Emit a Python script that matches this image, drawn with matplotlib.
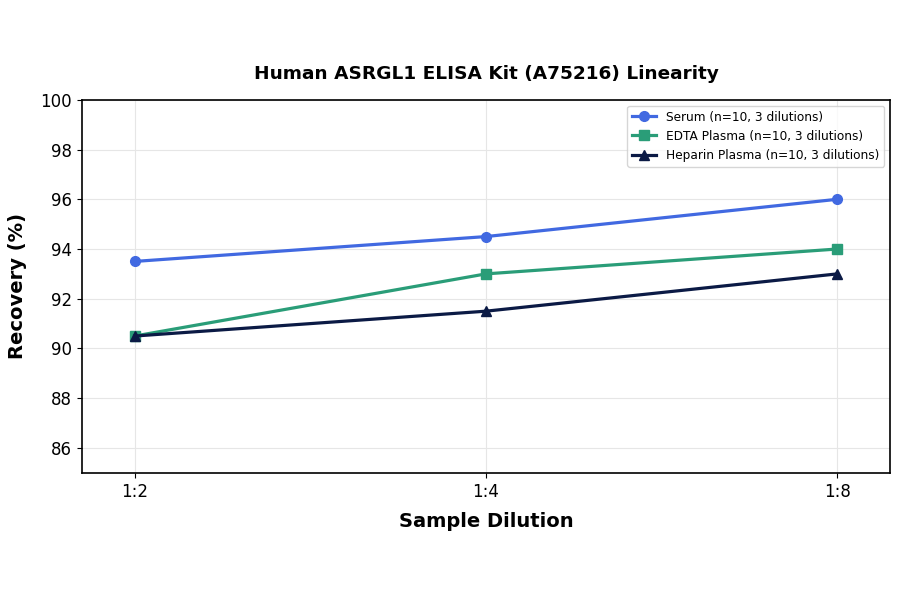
import matplotlib
matplotlib.use("Agg")
import matplotlib.pyplot as plt

dilutions = ["1:2", "1:4", "1:8"]
serum = [93.5, 94.5, 96.0]
edta = [90.5, 93.0, 94.0]
heparin = [90.5, 91.5, 93.0]

fig, ax = plt.subplots(figsize=(9, 5.94), dpi=100)
x = range(len(dilutions))
ax.plot(x, serum, marker="o", color="#4169E1", lw=2.3, ms=7, label="Serum (n=10, 3 dilutions)")
ax.plot(x, edta, marker="s", color="#2A9D78", lw=2.3, ms=7, label="EDTA Plasma (n=10, 3 dilutions)")
ax.plot(x, heparin, marker="^", color="#0B1A45", lw=2.3, ms=7, label="Heparin Plasma (n=10, 3 dilutions)")

ax.set_xticks(list(x))
ax.set_xticklabels(dilutions)
ax.set_xlim(-0.15, 2.15)
ax.set_ylim(85, 100)
ax.set_yticks(range(86, 101, 2))
ax.tick_params(labelsize=12)
ax.grid(True, color="#e6e6e6", lw=0.8)
ax.set_axisbelow(True)
for s in ax.spines.values():
    s.set_linewidth(1.2)

ax.set_xlabel("Sample Dilution", fontsize=14, fontweight="bold", labelpad=8)
ax.set_ylabel("Recovery (%)", fontsize=14, fontweight="bold", labelpad=10)
ax.set_title("Human ASRGL1 ELISA Kit (A75216) Linearity", fontsize=13.3, fontweight="bold", pad=15)
ax.legend(loc="upper right", fontsize=8.7)

fig.subplots_adjust(left=0.091, right=0.989, top=0.832, bottom=0.204)
fig.savefig("out.png")
